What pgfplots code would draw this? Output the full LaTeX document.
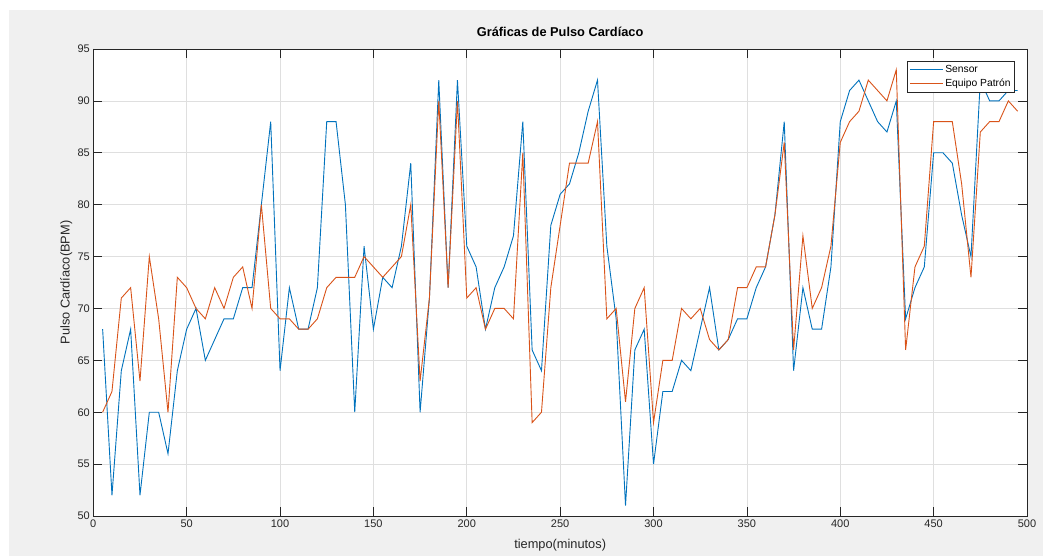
\documentclass[border=0pt]{standalone}
\usepackage{pgfplots}
\pgfplotsset{compat=1.18}
\usepackage{fontspec}
\setmainfont{Liberation Sans}

\definecolor{sensorblue}{RGB}{0,114,189}
\definecolor{patronorange}{RGB}{217,83,25}
\definecolor{axisgray}{RGB}{38,38,38}
\definecolor{gridgray}{RGB}{223,223,223}
\definecolor{figgray}{RGB}{240,240,240}

% Sensor vs reference equipment, one reading every 5 minutes
\pgfplotstableread{
t bpm
5 68
10 52
15 64
20 68
25 52
30 60
35 60
40 56
45 64
50 68
55 70
60 65
65 67
70 69
75 69
80 72
85 72
90 80
95 88
100 64
105 72
110 68
115 68
120 72
125 88
130 88
135 80
140 60
145 76
150 68
155 73
160 72
165 76
170 84
175 60
180 71
185 92
190 72
195 92
200 76
205 74
210 68
215 72
220 74
225 77
230 88
235 66
240 64
245 78
250 81
255 82
260 85
265 89
270 92
275 76
280 69
285 51
290 66
295 68
300 55
305 62
310 62
315 65
320 64
325 68
330 72
335 66
340 67
345 69
350 69
355 72
360 74
365 79
370 88
375 64
380 72
385 68
390 68
395 74
400 88
405 91
410 92
415 90
420 88
425 87
430 90
435 69
440 72
445 74
450 85
455 85
460 84
465 79
470 75
475 92
480 90
485 90
490 91
495 91
}\sensordata

\pgfplotstableread{
t bpm
5 60
10 62
15 71
20 72
25 63
30 75
35 69
40 60
45 73
50 72
55 70
60 69
65 72
70 70
75 73
80 74
85 70
90 80
95 70
100 69
105 69
110 68
115 68
120 69
125 72
130 73
135 73
140 73
145 75
150 74
155 73
160 74
165 75
170 80
175 63
180 71
185 90
190 72
195 90
200 71
205 72
210 68
215 70
220 70
225 69
230 85
235 59
240 60
245 72
250 78
255 84
260 84
265 84
270 88
275 69
280 70
285 61
290 70
295 72
300 59
305 65
310 65
315 70
320 69
325 70
330 67
335 66
340 67
345 72
350 72
355 74
360 74
365 79
370 86
375 66
380 77
385 70
390 72
395 76
400 86
405 88
410 89
415 92
420 91
425 90
430 93
435 66
440 74
445 76
450 88
455 88
460 88
465 82
470 73
475 87
480 88
485 88
490 90
495 89
}\patrondata

\begin{document}
\begin{tikzpicture}[x=1pt,y=1pt]
% figure window background
\fill[white] (0,0) rectangle (1043,556);
\fill[figgray] (9,0) rectangle (1043,546);
\begin{axis}[
    at={(93.3pt,40pt)}, anchor=south west,
    width=933.7pt, height=467pt, scale only axis,
    xmin=0, xmax=500, ymin=50, ymax=95,
    xtick={0,50,...,500},
    ytick={50,55,...,95},
    grid=major,
    major grid style={gridgray, line width=0.6pt},
    axis background/.style={fill=white},
    axis line style={axisgray, line width=0.6pt},
    tick style={axisgray, line width=0.6pt},
    tick align=inside,
    major tick length=9pt,
    /pgf/number format/assume math mode=true,
    ticklabel style={font=\fontsize{11}{12}\selectfont, text=axisgray},
    title={\bfseries Gráficas de Pulso Cardíaco},
    title style={at={(0.5,1)}, anchor=base, yshift=6.3pt,
        font=\fontsize{12.8}{14}\selectfont},
    xlabel={tiempo(minutos)},
    xlabel style={at={(0.5,0)}, anchor=base, yshift=-32.5pt,
        font=\fontsize{12.8}{14}\selectfont, text=axisgray},
    ylabel={Pulso Cardíaco(BPM)},
    ylabel style={at={(0,0.5)}, anchor=center, yshift=27pt,
        font=\fontsize{12.8}{14}\selectfont, text=axisgray},
    legend style={at={(0.987,0.974)}, anchor=north east,
        draw=axisgray, fill=white, line width=0.6pt,
        font=\fontsize{10.3}{11}\selectfont,
        inner sep=2.5pt, row sep=2pt,
        nodes={inner sep=1.5pt}},
    legend cell align=left,
    legend image code/.code={\draw[#1] (0pt,0pt) -- (33pt,0pt);},
]
\addplot[sensorblue, line width=0.9pt] table[x=t, y=bpm] {\sensordata};
\addlegendentry{Sensor}
\addplot[patronorange, line width=0.9pt] table[x=t, y=bpm] {\patrondata};
\addlegendentry{Equipo Patrón}
\end{axis}
\end{tikzpicture}
\end{document}
